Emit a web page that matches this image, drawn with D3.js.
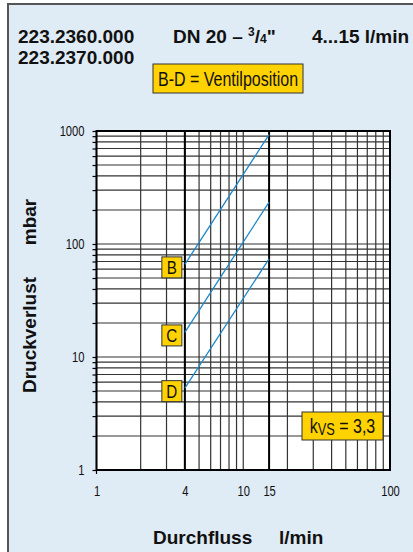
<!DOCTYPE html>
<html>
<head>
<meta charset="utf-8">
<script src="https://cdn.jsdelivr.net/npm/d3@7"></script>
<style>
  html, body { margin: 0; padding: 0; background: #fff; }
  svg { display: block; }
  .bold { font-family: "Liberation Sans", Arial, sans-serif; font-weight: bold; fill: #111; }
  .narrow { font-family: "Liberation Sans", Arial, sans-serif; fill: #111; }
</style>
</head>
<body>
<div id="chart"></div>
<script>
// chart data
const flowTicks = [1, 4, 10, 15, 100];
const dpTicks = [1, 10, 100, 1000];
const positions = ["B", "C", "D"];
const flowRange = [4, 15];            // l/min, start and end of each curve
const dpB = [66, 930];                // mbar
const dpC = [16.5, 235];
const dpD = [5.3, 74];
const curves = [dpB, dpC, dpD];

const width = 413, height = 552;
const squeeze = 0.8;   // fake a condensed face

const svg = d3.select("#chart").append("svg")
    .attr("width", width)
    .attr("height", height);

// condensed text helper
function narrowText(parent, x0, y0, size, anchor) {
    return parent.append("text")
        .attr("class", "narrow")
        .attr("transform", `translate(${x0},${y0}) scale(${squeeze},1)`)
        .attr("text-anchor", anchor || "middle")
        .style("font-size", size + "px");
}

// panel background with border at top and left
svg.append("rect")
    .attr("x", 8).attr("y", 4)
    .attr("width", width + 10).attr("height", height + 10)
    .attr("fill", "#dfebf5")
    .attr("stroke", "#555")
    .attr("stroke-width", 2);

const x = d3.scaleLog().domain([1, 100]).range([96.5, 390]);
const y = d3.scaleLog().domain([1, 1000]).range([470, 131]);

// plot area
svg.append("rect")
    .attr("x", x(1)).attr("y", y(1000))
    .attr("width", x(100) - x(1)).attr("height", y(1) - y(1000))
    .attr("fill", "#fff");

// minor values for grid
const xGrid = [];
for (let d = 1; d < 100; d *= 10)
    for (let k = 1; k <= 10; k++) xGrid.push(k * d);
const yGrid = [];
for (let d = 1; d < 1000; d *= 10)
    for (let k = 1; k <= 10; k++) yGrid.push(k * d);

const grid = svg.append("g");
grid.selectAll("line.v")
    .data(Array.from(new Set(xGrid)))
    .enter().append("line")
    .attr("class", "v")
    .attr("x1", d => x(d)).attr("x2", d => x(d))
    .attr("y1", y(1000)).attr("y2", y(1))
    .attr("stroke", "#333")
    .attr("stroke-width", 1.2);

grid.selectAll("line.h")
    .data(Array.from(new Set(yGrid)))
    .enter().append("line")
    .attr("class", "h")
    .attr("y1", d => y(d)).attr("y2", d => y(d))
    .attr("x1", x(1)).attr("x2", x(100))
    .attr("stroke", "#333")
    .attr("stroke-width", 1.2);

// highlighted flow range lines
grid.selectAll("line.r")
    .data(flowRange)
    .enter().append("line")
    .attr("x1", d => x(d)).attr("x2", d => x(d))
    .attr("y1", y(1000)).attr("y2", y(1))
    .attr("stroke", "#000")
    .attr("stroke-width", 2);

// frame
svg.append("rect")
    .attr("x", x(1)).attr("y", y(1000))
    .attr("width", x(100) - x(1)).attr("height", y(1) - y(1000))
    .attr("fill", "none")
    .attr("stroke", "#000")
    .attr("stroke-width", 2);

// axes with minor ticks
const yAxis = d3.axisLeft(y)
    .tickValues(Array.from(new Set(yGrid)))
    .tickSize(4)
    .tickFormat(d => dpTicks.includes(d) ? d : "");
const gy = svg.append("g")
    .attr("transform", `translate(${x(1)},0)`)
    .call(yAxis);
gy.select(".domain").remove();
gy.selectAll(".tick line").attr("stroke", "#000").attr("stroke-width", 1.2);
gy.selectAll(".tick text")
    .attr("class", "narrow")
    .attr("x", 0)
    .attr("dy", "0.35em")
    .attr("transform", `translate(-12,0) scale(${squeeze},1)`)
    .style("font-size", "14px");

const xAxis = d3.axisBottom(x)
    .tickValues(flowTicks)
    .tickSize(0)
    .tickFormat(d => d);
const gx = svg.append("g")
    .attr("transform", `translate(0,${y(1)})`)
    .call(xAxis);
gx.select(".domain").remove();
gx.selectAll(".tick text")
    .attr("class", "narrow")
    .attr("y", 0)
    .attr("dy", 0)
    .attr("transform", `translate(0,26) scale(${squeeze},1)`)
    .style("font-size", "14px");
svg.append("line")
    .attr("x1", x(1)).attr("x2", x(1))
    .attr("y1", y(1)).attr("y2", y(1) + 4)
    .attr("stroke", "#000").attr("stroke-width", 1.2);

// curves
const line = d3.line().x(d => x(d[0])).y(d => y(d[1]));
svg.selectAll("path.curve")
    .data(curves)
    .enter().append("path")
    .attr("class", "curve")
    .attr("d", c => line(flowRange.map((f, i) => [f, c[i]])))
    .attr("fill", "none")
    .attr("stroke", "#1d86c8")
    .attr("stroke-width", 1.3);

// position labels
const boxW = 20, boxH = 21;
const lab = svg.selectAll("g.pos")
    .data(positions)
    .enter().append("g")
    .attr("class", "pos")
    .attr("transform", (p, i) => `translate(${x(flowRange[0]) - 3 - boxW},${y(curves[i][0]) + 3 - boxH / 2})`);
lab.append("rect")
    .attr("width", boxW).attr("height", boxH)
    .attr("fill", "#ffd200")
    .attr("stroke", "#333")
    .attr("stroke-width", 1);
lab.each(function(p) {
    narrowText(d3.select(this), boxW / 2, boxH / 2 + 7, 19).text(p);
});

// legend boxes
svg.append("rect")
    .attr("x", 153).attr("y", 64).attr("width", 150).attr("height", 29)
    .attr("fill", "#ffd200").attr("stroke", "#333").attr("stroke-width", 1);
narrowText(svg, 228, 86, 20).text("B-D = Ventilposition");

svg.append("rect")
    .attr("x", 302).attr("y", 412).attr("width", 81).attr("height", 28)
    .attr("fill", "#ffd200").attr("stroke", "#333").attr("stroke-width", 1);
const kv = narrowText(svg, 342.5, 433, 20);
kv.append("tspan").text("k");
kv.append("tspan").attr("dy", 2).style("font-size", "16px").text("VS");
kv.append("tspan").attr("dy", -2).text(" = 3,3");

// titles
const t = svg.append("g").attr("class", "bold").style("font-size", "19px");
t.append("text").attr("x", 18).attr("y", 43).text("223.2360.000");
t.append("text").attr("x", 18).attr("y", 64).text("223.2370.000");
const dn = t.append("text").attr("x", 173).attr("y", 43);
dn.append("tspan").text("DN 20 \u2013 ");
dn.append("tspan").attr("dy", -7).style("font-size", "12px").text("3");
dn.append("tspan").attr("dy", 7).text("/");
dn.append("tspan").style("font-size", "12px").text("4");
dn.append("tspan").text("\"");
t.append("text").attr("x", 312).attr("y", 43).text("4...15 l/min");

svg.append("text")
    .attr("class", "bold")
    .attr("x", 153).attr("y", 544)
    .style("font-size", "19px")
    .text("Durchfluss");
svg.append("text")
    .attr("class", "bold")
    .attr("x", 279).attr("y", 544)
    .style("font-size", "19px")
    .text("l/min");

svg.append("text")
    .attr("class", "bold")
    .attr("transform", "translate(36,335) rotate(-90)")
    .attr("text-anchor", "middle")
    .style("font-size", "19px")
    .text("Druckverlust");
svg.append("text")
    .attr("class", "bold")
    .attr("transform", "translate(36,222) rotate(-90)")
    .attr("text-anchor", "middle")
    .style("font-size", "19px")
    .text("mbar");
</script>
</body>
</html>
